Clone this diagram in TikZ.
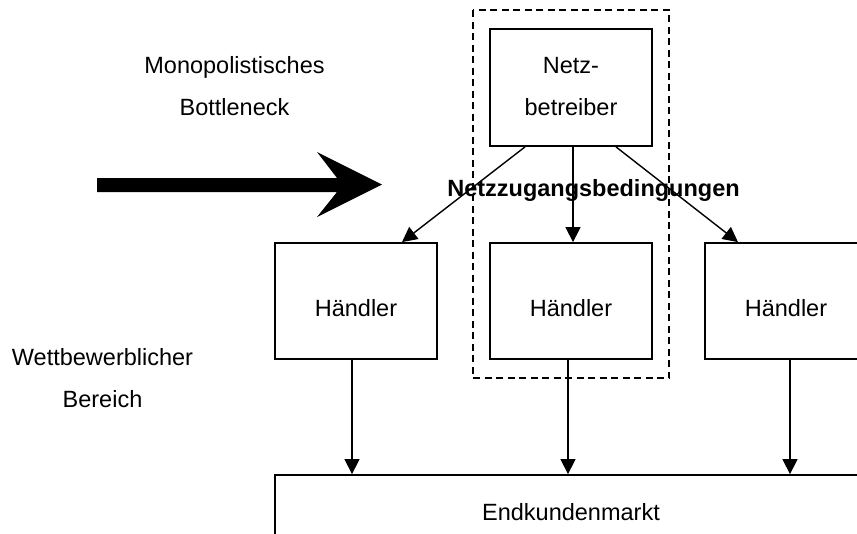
\documentclass[tikz,border=0pt]{standalone}
\usepackage{fontspec}
\setmainfont{Liberation Sans}
\usetikzlibrary{arrows.meta}
\tikzset{
  box/.style={draw=black, line width=1.8pt, rectangle, inner sep=0pt, fill=white},
  txt/.style={anchor=base, inner sep=0pt, font=\fontsize{23.5}{28}\selectfont},
  boldtxt/.style={txt, font=\fontsize{23.5}{28}\selectfont\bfseries},
  arr/.style={line width=1.4pt, -{Triangle[length=15pt,width=15pt]}},
  dashbox/.style={draw=black, line width=1.6pt, dash pattern=on 7pt off 4.5pt}
}
\begin{document}
\begin{tikzpicture}[x=1pt,y=-1pt]
\useasboundingbox (0,0) rectangle (857,533);
\clip (0,0) rectangle (857,533);
\fill[white] (0,0) rectangle (857,533);
% dashed frame
\draw[dashbox] (473,10) rectangle (669,378);
% boxes
\node[box, minimum width=162pt, minimum height=117pt] (nb) at (571,87.5) {};
\node[box, minimum width=162pt, minimum height=116pt] (h1) at (356,301) {};
\node[box, minimum width=162pt, minimum height=116pt] (h2) at (571,301) {};
\node[box, minimum width=162pt, minimum height=116pt] (h3) at (786,301) {};
\node[box, minimum width=592pt, minimum height=76pt] (ek) at (571,513) {};
% texts
\node[txt] (tnetz) at (571,73) {Netz-};
\node[txt] (tbetr) at (571,115) {betreiber};
\node[txt] (th1) at (356,316) {Händler};
\node[txt] (th2) at (571,316) {Händler};
\node[txt] (th3) at (786,316) {Händler};
\node[txt] (tek) at (571,520) {Endkundenmarkt};
\node[txt] (tmono) at (234.5,73) {Monopolistisches};
\node[txt] (tbott) at (234.5,115) {Bottleneck};
\node[txt] (twett) at (102.5,365) {Wettbewerblicher};
\node[txt] (tber) at (102.5,407) {Bereich};
% connectors from Netzbetreiber
\draw[arr] ([xshift=-46pt]nb.south) -- ([xshift=46pt]h1.north);
\draw[arr] ([xshift=2pt]nb.south) -- ([xshift=2pt]h2.north);
\draw[arr] ([xshift=45pt]nb.south) -- ([xshift=-48pt]h3.north);
\node[boldtxt] (tnzb) at (593.5,196) {Netzzugangsbedingungen};
% connectors to Endkundenmarkt
\draw[arr] ([xshift=-4pt]h1.south) -- ([xshift=-4pt]h1.south |- ek.north);
\draw[arr] ([xshift=-3pt]h2.south) -- ([xshift=-3pt]h2.south |- ek.north);
\draw[arr] ([xshift=4pt]h3.south) -- ([xshift=4pt]h3.south |- ek.north);
% big arrow
\coordinate (bigtip) at (382,184.5);
\fill[black] (97,178) -- (337,178) -- (317,152) -- (bigtip) -- (317,217) -- (337,192) -- (97,192) -- cycle;
\end{tikzpicture}
\end{document}
